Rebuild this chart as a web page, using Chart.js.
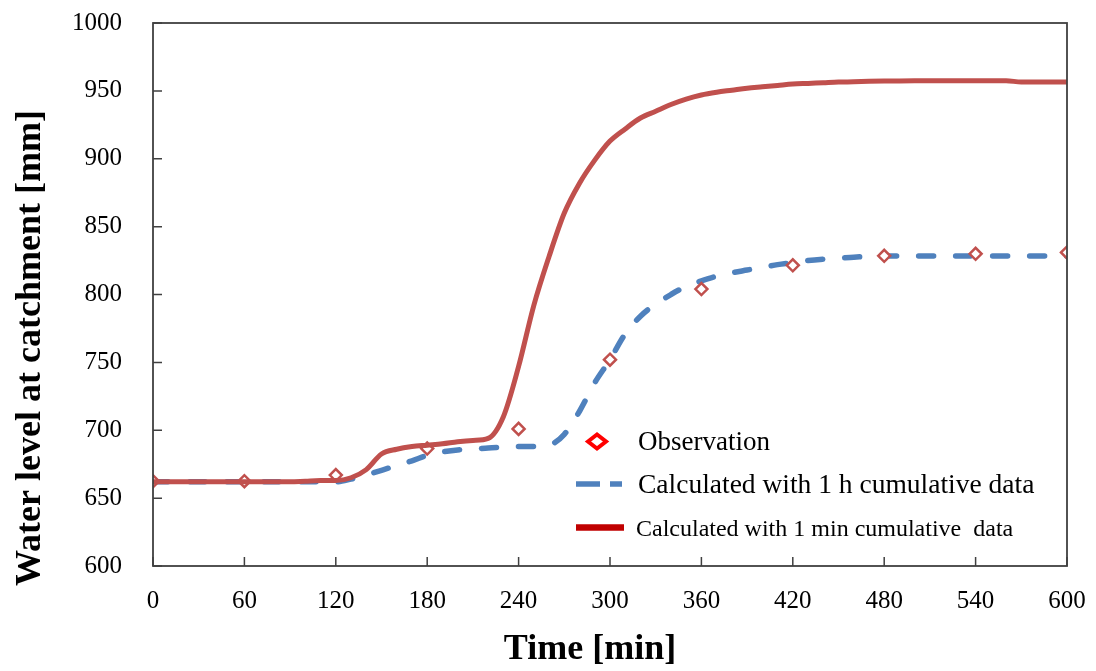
<!doctype html>
<html lang="en">
  <head>
    <meta charset="UTF-8" />
    <title>Water level at catchment</title>
    <style>
      body { margin: 0; background: #fff; }
    </style>
  </head>

  <body>
    <canvas id="chart" width="1096" height="671"></canvas>

    <script src="https://cdn.jsdelivr.net/npm/chart.js@4"></script>

    <script>
      // time axis of the calculated series [min]
      const timeMin = [
        0, 10, 20, 30, 40, 50, 60, 70, 80, 90, 100, 110, 120, 130, 140, 150, 160, 170, 180, 190,
        200, 210, 220, 230, 240, 250, 260, 270, 280, 290, 300, 310, 320, 330, 340, 350, 360, 370,
        380, 390, 400, 410, 420, 430, 440, 450, 460, 470, 480, 490, 500, 510, 520, 530, 540, 550,
        560, 570, 580, 590, 600,
      ]

      // calculated with 1 min cumulative data [mm]
      const level1min = [
        662, 662, 662, 662, 662, 662, 662, 662, 662, 662, 662.5, 663, 663, 665, 671, 682.5, 686, 688, 689, 690,
        691.5, 692.5, 694, 710, 747, 792, 828, 860, 882, 899, 913, 922, 930, 935, 940, 944, 947, 949,
        950.5, 952, 953, 954, 955, 955.5, 956, 956.5, 956.7, 957, 957.2, 957.3, 957.4, 957.5, 957.5, 957.5, 957.5, 957.5,
        957.5, 956.5, 956.5, 956.5, 956.5,
      ]

      // calculated with 1 h cumulative data [mm]
      const level1h = [
        662, 662, 662, 662, 662, 662, 662, 662, 662, 662, 662, 662, 662, 664, 667, 670.5, 674, 677.5, 681.5, 684,
        685.5, 686, 687, 687.5, 688, 688, 689, 697, 714, 735, 752, 771, 784, 793, 800, 806, 810, 813.5,
        816, 818, 820, 822, 823.5, 825, 826, 826.7, 827.5, 828, 828.3, 828.4, 828.4, 828.4, 828.4, 828.4, 828.4, 828.4,
        828.4, 828.4, 828.4, 828.4, 828.4,
      ]

      // observations
      const obsTime = [0, 60, 120, 180, 240, 300, 360, 420, 480, 540, 600]
      const obsLevel = [662.5, 662.5, 667, 686.5, 701, 752, 804, 821.5, 828.5, 830, 831]

      const xTicks = [0, 60, 120, 180, 240, 300, 360, 420, 480, 540, 600]
      const yTicks = [600, 650, 700, 750, 800, 850, 900, 950, 1000]

      const SERIF = '"Liberation Serif", "Times New Roman", serif'
      const RED = '#C0504D'
      const BLUE = '#4F81BD'
      const AXIS = '#404040'

      const pairs = (xs, ys) => xs.map((x, i) => ({ x, y: ys[i] }))

      // box round the plot plus inward tick marks
      const framePlugin = {
        id: 'frame',
        afterDraw(chart) {
          const { ctx, chartArea: a, scales } = chart
          ctx.save()
          ctx.strokeStyle = AXIS
          ctx.lineWidth = 1.8
          ctx.strokeRect(a.left, a.top, a.right - a.left, a.bottom - a.top)
          ctx.lineWidth = 1.5
          ctx.beginPath()
          xTicks.forEach((v) => {
            const px = scales.x.getPixelForValue(v)
            ctx.moveTo(px, a.bottom)
            ctx.lineTo(px, a.bottom - 9)
          })
          yTicks.forEach((v) => {
            const py = scales.y.getPixelForValue(v)
            ctx.moveTo(a.left, py)
            ctx.lineTo(a.left + 9, py)
          })
          ctx.stroke()
          ctx.restore()
        },
      }

      // axis titles (the y title sits lower than the plot middle in the original)
      const titlePlugin = {
        id: 'titles',
        afterDraw(chart) {
          const { ctx } = chart
          ctx.save()
          ctx.fillStyle = '#000'
          ctx.font = `bold 36px ${SERIF}`
          ctx.textAlign = 'center'
          ctx.textBaseline = 'alphabetic'
          ctx.fillText('Time [min]', 590, 659)
          ctx.translate(40, 348)
          ctx.rotate(-Math.PI / 2)
          ctx.fillText('Water level at catchment [mm]', 0, 0)
          ctx.restore()
        },
      }

      // legend drawn inside the plot, lower right
      const legendPlugin = {
        id: 'innerLegend',
        afterDraw(chart) {
          const { ctx } = chart
          const ds = chart.data.datasets
          ctx.save()
          ctx.fillStyle = '#000'
          ctx.textAlign = 'left'
          ctx.textBaseline = 'alphabetic'

          // observation diamond
          ctx.strokeStyle = '#FF0000'
          ctx.lineWidth = 4
          ctx.beginPath()
          ctx.moveTo(588, 441.5)
          ctx.lineTo(597, 434.5)
          ctx.lineTo(606, 441.5)
          ctx.lineTo(597, 448.5)
          ctx.closePath()
          ctx.stroke()
          ctx.font = `27px ${SERIF}`
          ctx.fillText(ds[0].label, 638, 449.5)

          // dashed blue
          ctx.strokeStyle = BLUE
          ctx.lineWidth = 5.5
          ctx.beginPath()
          ctx.moveTo(576, 484)
          ctx.lineTo(600, 484)
          ctx.moveTo(610, 484)
          ctx.lineTo(622, 484)
          ctx.stroke()
          ctx.font = `27.5px ${SERIF}`
          ctx.fillText(ds[1].label, 638, 492.5)

          // solid red
          ctx.strokeStyle = '#C00000'
          ctx.lineWidth = 6.5
          ctx.beginPath()
          ctx.moveTo(576, 527.5)
          ctx.lineTo(624, 527.5)
          ctx.stroke()
          ctx.font = `24px ${SERIF}`
          ctx.fillText(ds[2].label, 636, 536)
          ctx.restore()
        },
      }

      const noPad = (s) => {
        s.paddingLeft = 0
        s.paddingRight = 0
        s.paddingTop = 0
        s.paddingBottom = 0
      }

      const ctx = document.getElementById('chart')

      new Chart(ctx, {
        type: 'line',
        data: {
          datasets: [
            {
              label: 'Observation',
              data: pairs(obsTime, obsLevel),
              showLine: false,
              pointStyle: 'rectRot',
              pointRadius: 6,
              pointBorderWidth: 2.5,
              pointBorderColor: RED,
              pointBackgroundColor: '#fff',
              order: 1,
            },
            {
              label: 'Calculated with 1 h cumulative data',
              data: pairs(timeMin, level1h),
              borderColor: BLUE,
              borderWidth: 5.5,
              borderDash: [15, 22],
              borderCapStyle: 'round',
              pointRadius: 0,
              cubicInterpolationMode: 'monotone',
              order: 2,
            },
            {
              label: 'Calculated with 1 min cumulative  data',
              data: pairs(timeMin, level1min),
              borderColor: RED,
              borderWidth: 5,
              borderJoinStyle: 'round',
              pointRadius: 0,
              cubicInterpolationMode: 'monotone',
              order: 0,
            },
          ],
        },
        options: {
          responsive: false,
          animation: false,
          layout: { padding: { top: 23, right: 29, left: 0, bottom: 0 } },
          plugins: {
            legend: { display: false },
            tooltip: { enabled: false },
          },
          scales: {
            x: {
              type: 'linear',
              min: 0,
              max: 600,
              afterBuildTicks: (s) => {
                s.ticks = xTicks.map((value) => ({ value }))
              },
              afterFit: (s) => {
                s.height = 105
                noPad(s)
              },
              ticks: {
                color: '#000',
                font: { family: SERIF, size: 25 },
                padding: 20,
                maxRotation: 0,
                autoSkip: false,
                callback: (v) => String(v),
              },
              grid: { display: false, drawTicks: false },
              border: { display: false },
            },
            y: {
              min: 600,
              max: 1000,
              afterBuildTicks: (s) => {
                s.ticks = yTicks.map((value) => ({ value }))
              },
              afterFit: (s) => {
                s.width = 153
                noPad(s)
              },
              ticks: {
                color: '#000',
                font: { family: SERIF, size: 25 },
                padding: 31,
                autoSkip: false,
                callback: (v) => String(v),
              },
              grid: { display: false, drawTicks: false },
              border: { display: false },
            },
          },
        },
        plugins: [framePlugin, titlePlugin, legendPlugin],
      })
    </script>
  </body>
</html>
